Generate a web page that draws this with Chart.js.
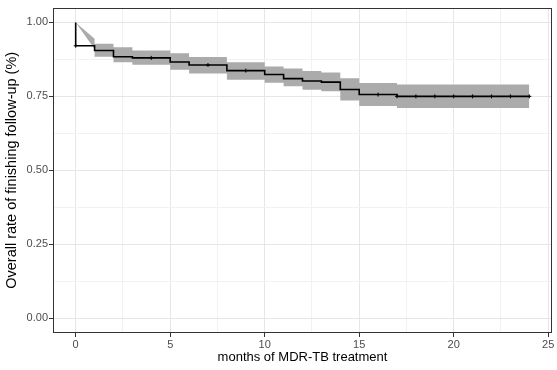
<!DOCTYPE html>
<html>
<head>
<meta charset="utf-8">
<script src="https://cdn.jsdelivr.net/npm/chart.js@4.4.0/dist/chart.umd.min.js"></script>
<style>
html, body { margin: 0; padding: 0; background: #fff; }
#wrap { width: 557px; height: 370px; }
</style>
</head>
<body>
<div id="wrap"><canvas id="km"></canvas></div>
<script>
// survival estimate (step function)
const times = [0, 1, 2, 3, 5, 6, 8, 10, 11, 12, 13, 14, 15, 17, 24];
const surv = [0.921, 0.905, 0.884, 0.880, 0.866, 0.856, 0.837, 0.824, 0.810, 0.802, 0.798, 0.773, 0.756, 0.750, 0.750];

// confidence band per interval (starting at times[i])
const upper = [1.00, 0.928, 0.916, 0.905, 0.896, 0.883, 0.865, 0.851, 0.844, 0.836, 0.831, 0.811, 0.795, 0.790, 0.790];
const lower = [1.00, 0.884, 0.865, 0.857, 0.840, 0.827, 0.806, 0.796, 0.784, 0.772, 0.767, 0.736, 0.717, 0.711, 0.711];
const wedgeUpper = 0.945;
const wedgeLower = 0.910;

// censored observations
const censorTimes = [0, 4, 7, 9, 16, 17, 18, 19, 20, 21, 22, 23, 24];

// axis ticks
const xTicks = [0, 2.5, 5, 7.5, 10, 12.5, 15, 17.5, 20, 22.5, 25];
const yTicks = [0, 0.125, 0.25, 0.375, 0.5, 0.625, 0.75, 0.875, 1];

function survAt(t) {
    let v = surv[0];
    for (let i = 0; i < times.length; i++) {
        if (times[i] <= t) v = surv[i];
    }
    return v;
}

function bandPoints(vals, wedge) {
    let pts = [{x: times[0], y: vals[0]}, {x: times[1], y: wedge}];
    for (let i = 1; i < times.length - 1; i++) {
        pts.push({x: times[i], y: vals[i]});
        pts.push({x: times[i + 1], y: vals[i]});
    }
    return pts;
}

let survPts = [{x: 0, y: 1}];
for (let i = 0; i < times.length; i++) {
    survPts.push({x: times[i], y: surv[i]});
}

let censorPts = censorTimes.map(t => ({x: t, y: survAt(t)}));

const isMajorX = v => Math.abs(v / 5 - Math.round(v / 5)) < 1e-9;
const isMajorY = v => Math.abs(v * 4 - Math.round(v * 4)) < 1e-9;

const panelBorder = {
    id: 'panelBorder',
    afterDraw(chart) {
        const a = chart.chartArea;
        const ctx = chart.ctx;
        ctx.save();
        ctx.strokeStyle = '#333333';
        ctx.lineWidth = 1;
        ctx.strokeRect(Math.round(a.left) + 0.5, Math.round(a.top) + 0.5,
            Math.round(a.right - a.left) - 1, Math.round(a.bottom - a.top) - 1);
        ctx.restore();
    }
};

const font = 'Liberation Sans, Arial, Helvetica, sans-serif';

const config = {
    type: 'line',
    data: {
        datasets: [
            {
                data: censorPts,
                showLine: false,
                pointStyle: 'cross',
                pointRadius: 2,
                pointBorderWidth: 1,
                pointBorderColor: '#000',
                order: 0
            },
            {
                data: survPts,
                stepped: 'before',
                borderColor: '#000',
                borderWidth: 1.6,
                pointRadius: 0,
                fill: false,
                order: 1
            },
            {
                data: bandPoints(upper, wedgeUpper),
                borderWidth: 0,
                borderColor: 'rgba(0,0,0,0)',
                pointRadius: 0,
                fill: false,
                order: 2
            },
            {
                data: bandPoints(lower, wedgeLower),
                borderWidth: 0,
                borderColor: 'rgba(0,0,0,0)',
                backgroundColor: '#ababab',
                pointRadius: 0,
                fill: '-1',
                order: 3
            }
        ]
    },
    options: {
        responsive: true,
        maintainAspectRatio: false,
        animation: false,
        devicePixelRatio: 1,
        layout: { padding: { top: 7, right: 5, left: 0, bottom: 0 } },
        plugins: {
            legend: { display: false },
            tooltip: { enabled: false }
        },
        scales: {
            x: {
                type: 'linear',
                min: -1.2,
                max: 25.2,
                afterBuildTicks: axis => { axis.ticks = xTicks.map(v => ({value: v})); },
                afterFit: axis => { axis.height = 37; },
                border: { display: false },
                grid: {
                    color: ctx => isMajorX(ctx.tick.value) ? '#e6e6e6' : '#f2f2f2',
                    lineWidth: 1,
                    tickColor: ctx => isMajorX(ctx.tick.value) ? '#333333' : 'rgba(0,0,0,0)',
                    tickLength: 4
                },
                ticks: {
                    autoSkip: false,
                    maxRotation: 0,
                    padding: 1,
                    color: '#4d4d4d',
                    font: { family: font, size: 11 },
                    callback: v => isMajorX(v) ? String(v) : ''
                },
                title: {
                    display: true,
                    text: 'months of MDR-TB treatment',
                    color: '#000',
                    font: { family: font, size: 13 },
                    padding: { top: 0, bottom: 5 }
                }
            },
            y: {
                type: 'linear',
                min: -0.05,
                max: 1.05,
                afterBuildTicks: axis => { axis.ticks = yTicks.map(v => ({value: v})); },
                afterFit: axis => { axis.width = 53; },
                border: { display: false },
                grid: {
                    color: ctx => isMajorY(ctx.tick.value) ? '#e6e6e6' : '#f2f2f2',
                    lineWidth: 1,
                    tickColor: ctx => isMajorY(ctx.tick.value) ? '#333333' : 'rgba(0,0,0,0)',
                    tickLength: 4
                },
                ticks: {
                    autoSkip: false,
                    padding: 1,
                    color: '#4d4d4d',
                    font: { family: font, size: 11 },
                    callback: v => isMajorY(v) ? v.toFixed(2) : ''
                },
                title: {
                    display: true,
                    text: 'Overall rate of finishing follow-up (%)',
                    color: '#000',
                    font: { family: font, size: 14.5 },
                    padding: { top: 3, bottom: 0 }
                }
            }
        }
    },
    plugins: [panelBorder]
};

var ctx = document.getElementById('km').getContext('2d');
var kmChart = new Chart(ctx, config);
</script>
</body>
</html>
